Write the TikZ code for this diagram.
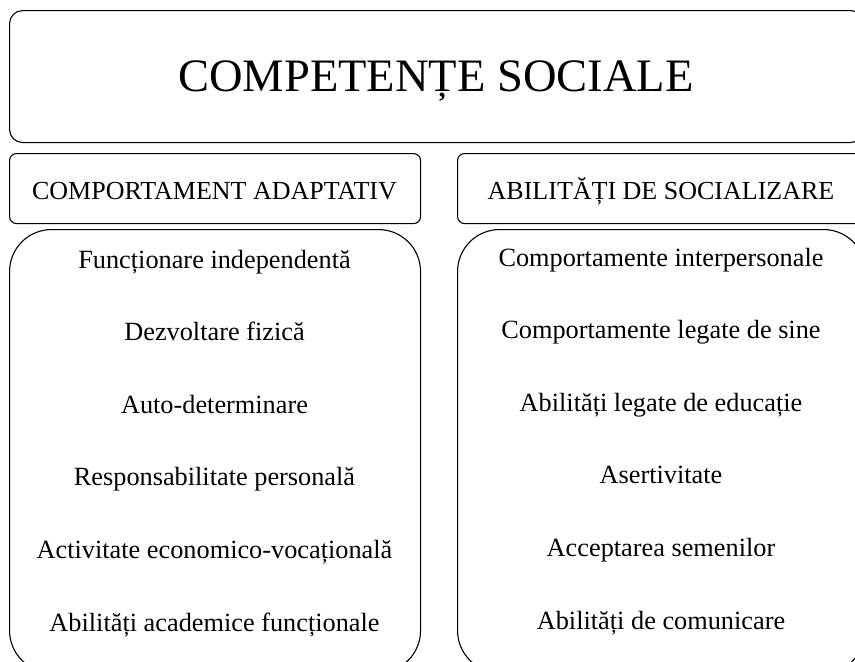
\documentclass[tikz,border=0pt]{standalone}
\usepackage{fontspec}
\setmainfont{Liberation Serif}
\begin{document}
\begin{tikzpicture}[x=1pt,y=-1pt,
  frame/.style={draw=black,line width=1.1pt,inner sep=0pt,anchor=north west},
  titletext/.style={anchor=base,inner sep=0pt,font=\fontsize{46.5}{46.5}\selectfont},
  headtext/.style={anchor=base,inner sep=0pt,font=\fontsize{26}{26}\selectfont},
  itemtext/.style={anchor=base,inner sep=0pt,font=\fontsize{26.3}{26.3}\selectfont}]
\useasboundingbox (0,0) rectangle (855,662);
\clip (0,0) rectangle (855,662);
% boxes
\node[frame,rounded corners=13pt,minimum width=854pt,minimum height=132pt] (top) at (9,10) {};
\node[frame,rounded corners=7pt,minimum width=411pt,minimum height=70pt] (hl) at (9,153) {};
\node[frame,rounded corners=7pt,minimum width=408pt,minimum height=70pt] (hr) at (457,153) {};
\node[frame,rounded corners=42pt,minimum width=411pt,minimum height=443pt] (bl) at (9,229) {};
\node[frame,rounded corners=42pt,minimum width=408pt,minimum height=443pt] (br) at (457,229) {};
% texts
\node[titletext] (t) at (436,91) {COMPETENȚE SOCIALE};
\node[headtext] (hlt) at (214.5,199) {COMPORTAMENT ADAPTATIV};
\node[headtext] (hrt) at (661,199) {ABILITĂȚI DE SOCIALIZARE};
\node[itemtext] (l1) at (214.5,268) {Funcționare independentă};
\node[itemtext] (l2) at (214.5,340.6) {Dezvoltare fizică};
\node[itemtext] (l3) at (214.5,413.2) {Auto-determinare};
\node[itemtext] (l4) at (214.5,485.8) {Responsabilitate personală};
\node[itemtext] (l5) at (214.5,558.4) {Activitate economico-vocațională};
\node[itemtext] (l6) at (214.5,631) {Abilități academice funcționale};
\node[itemtext] (r1) at (661,266) {Comportamente interpersonale};
\node[itemtext] (r2) at (661,338.6) {Comportamente legate de sine};
\node[itemtext] (r3) at (661,411.2) {Abilități legate de educație};
\node[itemtext] (r4) at (661,483.8) {Asertivitate};
\node[itemtext] (r5) at (661,556.4) {Acceptarea semenilor};
\node[itemtext] (r6) at (661,629) {Abilități de comunicare};
\end{tikzpicture}
\end{document}
